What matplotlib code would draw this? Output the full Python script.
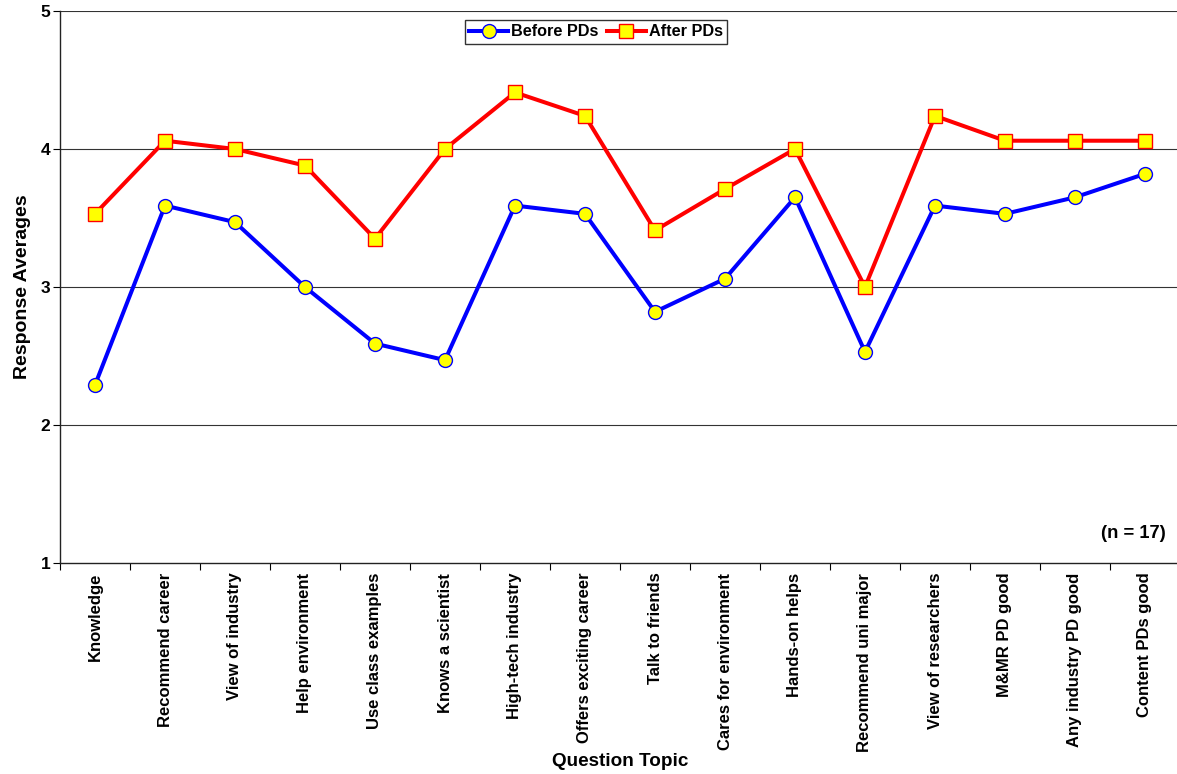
import matplotlib
matplotlib.use("Agg")
import matplotlib.pyplot as plt
import numpy as np

plt.rcParams['font.family'] = 'Liberation Sans'
plt.rcParams['font.weight'] = 'bold'

topics = ["Knowledge", "Recommend career", "View of industry", "Help environment",
          "Use class examples", "Knows a scientist", "High-tech industry",
          "Offers exciting career", "Talk to friends", "Cares for environment",
          "Hands-on helps", "Recommend uni major", "View of researchers",
          "M&MR PD good", "Any industry PD good", "Content PDs good"]

before = [2.29, 3.59, 3.47, 3.00, 2.59, 2.47, 3.59, 3.53, 2.82, 3.06,
          3.65, 2.53, 3.59, 3.53, 3.65, 3.82]
after = [3.53, 4.06, 4.00, 3.88, 3.35, 4.00, 4.41, 4.24, 3.41, 3.71,
         4.00, 3.00, 4.24, 4.06, 4.06, 4.06]

W, H = 1177, 774
fig = plt.figure(figsize=(W / 100, H / 100), dpi=100)
ax = fig.add_axes([60 / W, 1 - 563 / H, 1120 / W, (563 - 11) / H])

x = np.arange(len(topics))
ax.plot(x, before, color='#0000ff', lw=2.9, marker='o', ms=10,
        mfc='#ffff00', mec='#0000ff', mew=1.0, label='Before PDs', zorder=3)
ax.plot(x, after, color='#ff0000', lw=2.9, marker='s', ms=10,
        mfc='#ffff00', mec='#ff0000', mew=1.0, label='After PDs', zorder=3)

ax.set_xlim(-0.5, len(topics) - 0.5)
ax.set_ylim(1, 5)
ax.set_yticks([1, 2, 3, 4, 5])
ax.set_yticklabels(['1', '2', '3', '4', '5'], fontsize=12.5, fontweight='bold')
for yv in [2, 3, 4, 5]:
    ax.axhline(yv, color='#333333', lw=0.8, zorder=1)

ax.set_xticks(x)
ax.set_xticklabels(topics, rotation=90, fontsize=12, fontweight='bold')
ax.tick_params(axis='x', which='major', length=0, pad=7)
ax.set_xticks(np.arange(len(topics) + 1) - 0.5, minor=True)
ax.tick_params(axis='x', which='minor', length=5, width=0.8, direction='out')
ax.tick_params(axis='y', length=5, width=0.8, direction='out', pad=2)

for s in ['top', 'right']:
    ax.spines[s].set_visible(False)
for s in ['left', 'bottom']:
    ax.spines[s].set_linewidth(1.0)
    ax.spines[s].set_color('#222222')

ax.set_ylabel('Response Averages', fontsize=14, fontweight='bold', labelpad=6.5)
fig.text(620 / W, 1 - 762 / H, 'Question Topic', ha='center', va='center',
         fontsize=13.6, fontweight='bold')
fig.text(1166 / W, 1 - 533 / H, '(n = 17)', ha='right', va='center',
         fontsize=13.2, fontweight='bold')

leg = ax.legend(loc='center', bbox_to_anchor=(596 / W, 1 - 32 / H),
                bbox_transform=fig.transFigure, ncol=2, frameon=True,
                fancybox=False, edgecolor='black',
                prop={'family': 'Liberation Sans', 'weight': 'bold', 'size': 11.7},
                handlelength=2.4, handletextpad=0.2, columnspacing=0.5,
                borderpad=0.25, borderaxespad=0)
leg.get_frame().set_linewidth(1.0)

fig.savefig('out.png', dpi=100)
